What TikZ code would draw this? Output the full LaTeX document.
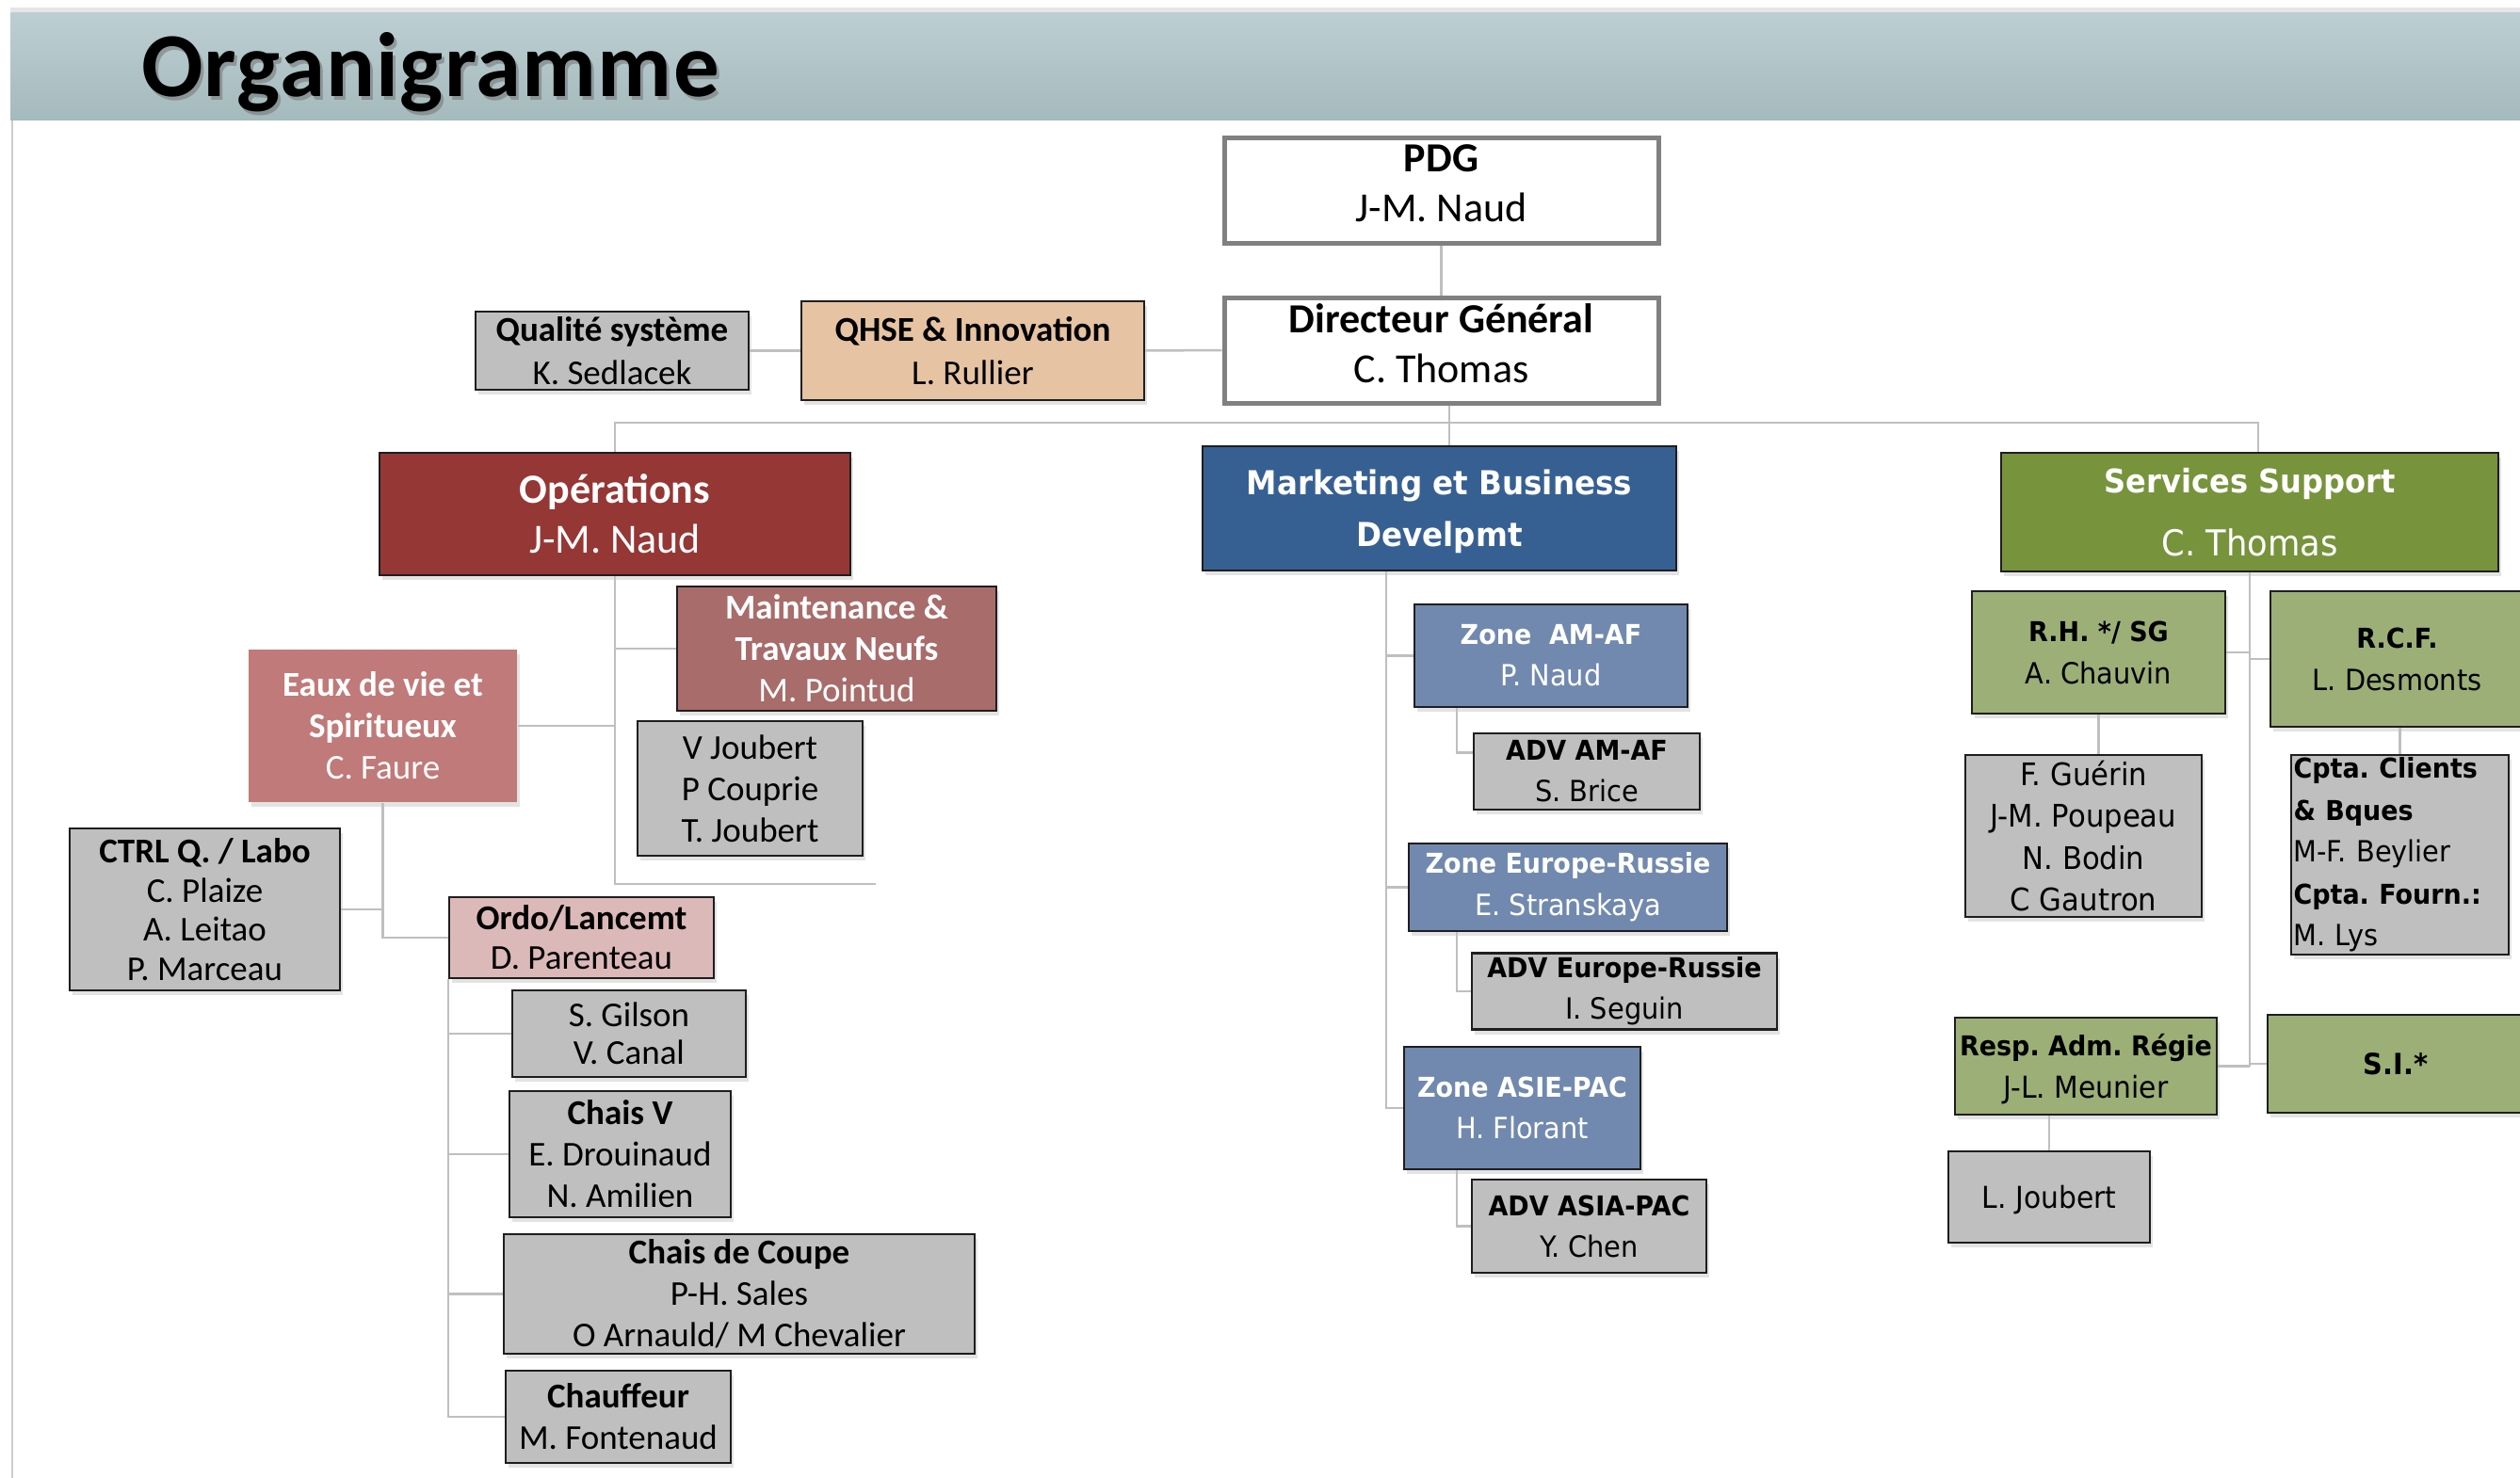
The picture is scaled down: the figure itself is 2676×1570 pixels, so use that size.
\documentclass[tikz,border=0pt]{standalone}
\usepackage{fontspec}
\setmainfont{Carlito}
\newfontfamily\tah[FakeStretch=0.93]{DejaVu Sans}
\newfontfamily\titlefont[LetterSpace=1.3]{Carlito}
\usetikzlibrary{shadows}
\frenchspacing
\definecolor{bandtop}{HTML}{BCCED1}
\definecolor{bandbot}{HTML}{A5BABD}
\definecolor{connc}{HTML}{BFBFBF}
\definecolor{boxline}{HTML}{1E1E1E}
\definecolor{grayf}{HTML}{BFBFBF}
\definecolor{opsf}{HTML}{953735}
\definecolor{maintf}{HTML}{A86C6B}
\definecolor{eauxf}{HTML}{C07A79}
\definecolor{ordof}{HTML}{DCB9B9}
\definecolor{mktf}{HTML}{376092}
\definecolor{zonef}{HTML}{7189AE}
\definecolor{ssf}{HTML}{77933C}
\definecolor{greenf}{HTML}{9CAF77}
\definecolor{qhsef}{HTML}{E6C3A3}
\definecolor{topline}{HTML}{808080}
\newcommand{\fBig}{\fontsize{44}{53}\selectfont}
\newcommand{\fMid}{\fontsize{37}{44}\selectfont}
\newcommand{\fQ}{\fontsize{37}{46}\selectfont}
\newcommand{\tb}[2]{{\fontsize{#1}{44}\selectfont\bfseries #2}}
\tikzset{
  conn/.style={draw=connc, line width=2.5pt},
  base/.style={rectangle, inner sep=0pt, align=center, line width=2.5pt, draw=boxline,
    drop shadow={shadow xshift=3pt, shadow yshift=-5pt, opacity=0.22}},
  grayb/.style={base, fill=grayf},
  topb/.style={rectangle, inner sep=0pt, align=center, line width=5pt, draw=topline, fill=white},
}
\begin{document}
\begin{tikzpicture}[x=1pt,y=-1pt]
\useasboundingbox (0,0) rectangle (2676,1570);
\fill[white] (0,0) rectangle (2676,1570);
% header band
\fill[black!10] (11,8) rectangle (2676,14);
\shade[top color=bandtop, bottom color=bandbot] (11,14) rectangle (2676,128);
\draw[black!20, line width=2pt] (13,128) -- (13,1570);
\node[anchor=base west, inner sep=0pt, text=black!55, opacity=0.55] at (153,107) {\titlefont\fontsize{97}{110}\selectfont\bfseries Organigramme};
\node[anchor=base west, inner sep=0pt] (title) at (150,103) {\titlefont\fontsize{97}{110}\selectfont\bfseries Organigramme};

% top level
\node[topb, minimum width=461pt, minimum height=112pt, text depth=17pt, font=\fBig] (pdg) at (1530.5,203) {\textbf{PDG}\\J-M. Naud};
\node[topb, minimum width=461pt, minimum height=112pt, text depth=15pt, font=\fBig] (dg) at (1530.5,372) {\textbf{Directeur Général}\\C. Thomas};
\node[base, fill=qhsef, minimum width=364pt, minimum height=105pt, font=\fQ] (qhse) at (1033,372.5) {\textbf{QHSE \& Innovation}\\L. Rullier};
\node[grayb, minimum width=290pt, minimum height=83pt, font=\fQ] (qual) at (650,372.5) {\textbf{Qualité système}\\K. Sedlacek};

% departments
\node[base, fill=opsf, text=white, minimum width=500pt, minimum height=130pt, font=\fBig] (ops) at (653,546) {\textbf{Opérations}\\J-M. Naud};
\node[base, fill=mktf, text=white, minimum width=503pt, minimum height=132pt, text depth=0pt, font={\tah\fontsize{35}{55}\selectfont\bfseries}] (mkt) at (1528.5,540) {Marketing et Business\\Develpmt};
\node[base, fill=ssf, text=white, minimum width=528pt, minimum height=126pt, font={\tah\fontsize{38}{67}\selectfont}] (ss) at (2389,544) {\tb{34.5}{Services Support}\\C. Thomas};

% operations subtree
\node[base, fill=maintf, text=white, minimum width=339pt, minimum height=132pt, font=\fMid] (maint) at (888.5,689) {\textbf{Maintenance \&}\\\textbf{Travaux Neufs}\\M. Pointud};
\node[base, draw=none, fill=eauxf, text=white, minimum width=285pt, minimum height=162pt, font=\fMid] (eaux) at (406.5,771) {\textbf{Eaux de vie et}\\\textbf{Spiritueux}\\C. Faure};
\node[grayb, minimum width=239pt, minimum height=143pt, font=\fMid] (vj) at (796.5,837.5) {V Joubert\\P Couprie\\T. Joubert};
\node[grayb, minimum width=287pt, minimum height=172pt, font=\fontsize{37}{41.5}\selectfont] (ctrl) at (217.5,966) {\textbf{CTRL Q. / Labo}\\C. Plaize\\A. Leitao\\P. Marceau};
\node[base, fill=ordof, minimum width=281pt, minimum height=86pt, font=\fontsize{37}{42}\selectfont] (ordo) at (617.5,996) {\textbf{Ordo/Lancemt}\\D. Parenteau};
\node[grayb, minimum width=248pt, minimum height=92pt, font=\fontsize{37}{40}\selectfont] (gilson) at (668,1098) {S. Gilson\\V. Canal};
\node[grayb, minimum width=235pt, minimum height=134pt, font=\fMid] (chaisv) at (658.5,1226) {\textbf{Chais V}\\E. Drouinaud\\N. Amilien};
\node[grayb, minimum width=500pt, minimum height=127pt, font=\fMid] (coupe) at (785,1374.5) {\textbf{Chais de Coupe}\\P-H. Sales\\O Arnauld/ M Chevalier};
\node[grayb, minimum width=239pt, minimum height=98pt, font=\fMid] (chauf) at (656.5,1505) {\textbf{Chauffeur}\\M. Fontenaud};

% marketing subtree
\node[base, fill=zonef, text=white, minimum width=290pt, minimum height=109pt, font={\tah\fontsize{31}{44}\selectfont}] (zam) at (1647,696.5) {\tb{29}{Zone\ \ AM-AF}\\P. Naud};
\node[grayb, minimum width=240pt, minimum height=81pt, font={\tah\fontsize{31}{44}\selectfont}] (advam) at (1685,819.5) {\tb{29}{ADV AM-AF}\\S. Brice};
\node[base, fill=zonef, text=white, minimum width=338pt, minimum height=93pt, font={\tah\fontsize{31}{45}\selectfont}] (zer) at (1665,942.5) {\tb{29}{Zone Europe-Russie}\\E. Stranskaya};
\node[grayb, minimum width=324pt, minimum height=81pt, font={\tah\fontsize{31}{44}\selectfont}] (adver) at (1725,1053) {\tb{29}{ADV Europe-Russie}\\I. Seguin};
\node[base, fill=zonef, text=white, minimum width=251pt, minimum height=130pt, font={\tah\fontsize{31}{44}\selectfont}] (zap) at (1616.5,1177) {\tb{29}{Zone ASIE-PAC}\\H. Florant};
\node[grayb, minimum width=249pt, minimum height=99pt, font={\tah\fontsize{31}{44}\selectfont}] (advap) at (1687.5,1302.5) {\tb{29}{ADV ASIA-PAC}\\Y. Chen};

% services support subtree
\node[base, fill=greenf, minimum width=269pt, minimum height=130pt, font={\tah\fontsize{31}{45}\selectfont}] (rh) at (2228.5,693) {\tb{29}{R.H. */ SG}\\A. Chauvin};
\node[base, fill=greenf, minimum width=269pt, minimum height=144pt, font={\tah\fontsize{31}{45}\selectfont}] (rcf) at (2545.5,700) {\tb{29}{R.C.F.}\\L. Desmonts};
\node[grayb, minimum width=251pt, minimum height=172pt, font={\tah\fontsize{33}{44.5}\selectfont}] (fg) at (2212.5,888) {F. Guérin\\J-M. Poupeau\\N. Bodin\\C Gautron};
\node[grayb, minimum width=231pt, minimum height=212pt, text width=226pt, align=left, font={\tah\fontsize{31}{44.5}\selectfont}] (cpta) at (2548.5,908) {\tb{29}{Cpta. Clients}\\\tb{29}{\& Bques}\\M-F. Beylier\\\tb{29}{Cpta. Fourn.:}\\M. Lys};
\node[base, fill=greenf, minimum width=278pt, minimum height=103pt, text depth=0pt, font={\tah\fontsize{32}{44.5}\selectfont}] (resp) at (2215,1132.5) {\tb{29}{Resp. Adm. Régie}\\J-L. Meunier};
\node[base, fill=greenf, minimum width=272pt, minimum height=104pt, font={\tah\fontsize{31}{44}\selectfont}] (si) at (2544,1130) {\tb{31}{S.I.*}};
\node[grayb, minimum width=214pt, minimum height=97pt, text depth=0pt, font={\tah\fontsize{32}{44}\selectfont}] (lj) at (2176,1271.5) {L. Joubert};

% connectors
\coordinate (hubL) at (653,449);
\coordinate (hubM) at (1539,449);
\coordinate (hubR) at (2398,449);
\coordinate (opsEnd) at (930,939);
\coordinate (mk) at (1472,607);
\coordinate (ax) at (1547,0);

\draw[conn] (pdg.south) -- (dg.north);
\draw[conn] (dg.west) -- (qhse.east);
\draw[conn] (qhse.west) -- (qual.east);
\draw[conn] (dg.south -| hubM) -- (mkt.north -| hubM);
\draw[conn] (ops.north) -- (hubL) -- (hubR) -- (hubR |- ss.north);

\draw[conn] (ops.south) |- (opsEnd);
\draw[conn] (ops.south |- maint.west) -- (maint.west);
\draw[conn] (eaux.east) -- (ops.south |- eaux.east);
\draw[conn] (eaux.south) |- (ordo.west);
\draw[conn] (ctrl.east) -- (eaux.south |- ctrl.east);
\draw[conn] (ordo.south west) |- (chauf.west);
\foreach \n in {gilson,chaisv,coupe} \draw[conn] (ordo.south west |- \n.west) -- (\n.west);

\draw[conn] (mk) |- (zap.west);
\draw[conn] (mk |- zam.west) -- (zam.west);
\draw[conn] (mk |- zer.west) -- (zer.west);
\draw[conn] (zam.south -| ax) |- ([yshift=20pt]advam.west);
\draw[conn] (zer.south -| ax) |- (adver.west);
\draw[conn] (zap.south -| ax) |- (advap.west);

\draw[conn] (ss.south) -- (ss.south |- resp.east);
\draw[conn] (rh.east) -- (ss.south |- rh.east);
\draw[conn] (rcf.west) -- (ss.south |- rcf.west);
\draw[conn] (resp.east) -- (ss.south |- resp.east);
\draw[conn] (si.west) -- (ss.south |- si.west);
\draw[conn] (rh.south) -- (rh.south |- fg.north);
\draw[conn] (cpta.north) -- (cpta.north |- rcf.south);
\draw[conn] (lj.north) -- (lj.north |- resp.south);
\end{tikzpicture}
\end{document}
